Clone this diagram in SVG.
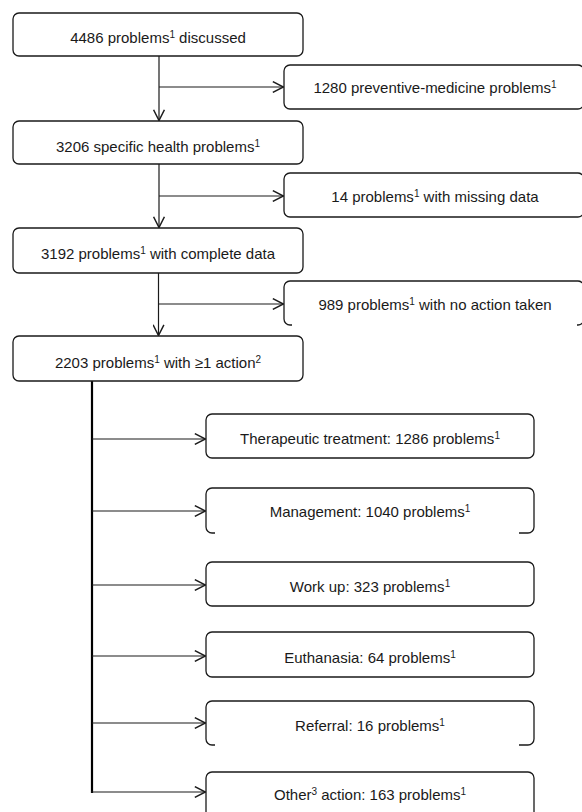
<svg xmlns="http://www.w3.org/2000/svg" width="582" height="812" viewBox="0 0 582 812">
<style>
.box{fill:#fff;stroke:#1a1a1a;stroke-width:1.3}
.open{fill:none;stroke:#1a1a1a;stroke-width:1.3}
.ln{fill:none;stroke:#1a1a1a;stroke-width:1.2}
.thick{fill:none;stroke:#000;stroke-width:2.2}
text{font-family:"Liberation Sans",Arial,sans-serif;font-size:15px;fill:#1a1a1a;text-anchor:middle}
.sup{font-size:10px}
</style>
<defs>
<marker id="ah" markerUnits="userSpaceOnUse" markerWidth="12" markerHeight="12" viewBox="0 0 10 10" refX="9.4" refY="5" orient="auto">
<path d="M0.5,0.5 L9.4,5 L0.5,9.5" fill="none" stroke="#1a1a1a" stroke-width="1.2"/>
</marker>
</defs>
<rect width="582" height="812" fill="#fff"/>
<g id="connectors">
<line class="ln" x1="159" y1="56" x2="159" y2="120.5" marker-end="url(#ah)"/>
<line class="ln" x1="159" y1="87" x2="283.5" y2="87" marker-end="url(#ah)"/>
<line class="ln" x1="159" y1="164" x2="159" y2="227.5" marker-end="url(#ah)"/>
<line class="ln" x1="159" y1="196" x2="283.5" y2="196" marker-end="url(#ah)"/>
<line class="ln" x1="158.5" y1="273" x2="158.5" y2="335.5" marker-end="url(#ah)"/>
<line class="ln" x1="158.5" y1="304" x2="283.5" y2="304" marker-end="url(#ah)"/>
<line class="thick" x1="92" y1="381" x2="92" y2="793"/>
<line class="ln" x1="92" y1="439" x2="205.5" y2="439" marker-end="url(#ah)"/>
<line class="ln" x1="92" y1="511" x2="205.5" y2="511" marker-end="url(#ah)"/>
<line class="ln" x1="92" y1="585" x2="205.5" y2="585" marker-end="url(#ah)"/>
<line class="ln" x1="92" y1="656" x2="205.5" y2="656" marker-end="url(#ah)"/>
<line class="ln" x1="92" y1="723" x2="205.5" y2="723" marker-end="url(#ah)"/>
<line class="ln" x1="91" y1="792" x2="205.5" y2="792" marker-end="url(#ah)"/>
</g>
<g id="n1">
<rect class="box" x="13" y="13" width="290" height="43" rx="6"/>
<text x="158" y="43">4486 problems<tspan class="sup" dy="-5">1</tspan><tspan dy="5"> discussed</tspan></text>
</g>
<g id="n2">
<rect class="box" x="284" y="65" width="300" height="44" rx="6"/>
<text x="435" y="93">1280 preventive-medicine problems<tspan class="sup" dy="-5">1</tspan></text>
</g>
<g id="n3">
<rect class="box" x="13" y="121" width="290" height="43" rx="6"/>
<text x="158" y="152">3206 specific health problems<tspan class="sup" dy="-5">1</tspan></text>
</g>
<g id="n4">
<rect class="box" x="284" y="173" width="300" height="44" rx="6"/>
<text x="435" y="202">14 problems<tspan class="sup" dy="-5">1</tspan><tspan dy="5"> with missing data</tspan></text>
</g>
<g id="n5">
<rect class="box" x="13" y="228" width="290" height="45" rx="6"/>
<text x="158" y="259">3192 problems<tspan class="sup" dy="-5">1</tspan><tspan dy="5"> with complete data</tspan></text>
</g>
<g id="n6">
<path class="open" d="M292,325 H290 A6,6 0 0 1 284,319 V287 A6,6 0 0 1 290,281 H578 A6,6 0 0 1 584,287 V319 A6,6 0 0 1 578,325 H577"/>
<text x="435" y="310">989 problems<tspan class="sup" dy="-5">1</tspan><tspan dy="5"> with no action taken</tspan></text>
</g>
<g id="n7">
<rect class="box" x="13" y="336" width="290" height="45" rx="6"/>
<text x="158" y="368">2203 problems<tspan class="sup" dy="-5">1</tspan><tspan dy="5"> with ≥1 action</tspan><tspan class="sup" dy="-5">2</tspan></text>
</g>
<g id="n8">
<rect class="box" x="206" y="414" width="328" height="44" rx="6"/>
<text x="370" y="444">Therapeutic treatment: 1286 problems<tspan class="sup" dy="-5">1</tspan></text>
</g>
<g id="n9">
<path class="open" d="M215,533 H212 A6,6 0 0 1 206,527 V494 A6,6 0 0 1 212,488 H528 A6,6 0 0 1 534,494 V527 A6,6 0 0 1 528,533 H519"/>
<text x="370" y="517">Management: 1040 problems<tspan class="sup" dy="-5">1</tspan></text>
</g>
<g id="n10">
<rect class="box" x="206" y="562" width="328" height="44" rx="6"/>
<text x="370" y="592">Work up: 323 problems<tspan class="sup" dy="-5">1</tspan></text>
</g>
<g id="n11">
<rect class="box" x="206" y="632" width="328" height="45" rx="6"/>
<text x="370" y="663">Euthanasia: 64 problems<tspan class="sup" dy="-5">1</tspan></text>
</g>
<g id="n12">
<path class="open" d="M215,745 H212 A6,6 0 0 1 206,739 V707 A6,6 0 0 1 212,701 H528 A6,6 0 0 1 534,707 V739 A6,6 0 0 1 528,745 H519"/>
<text x="370" y="731">Referral: 16 problems<tspan class="sup" dy="-5">1</tspan></text>
</g>
<g id="n13">
<rect class="box" x="206" y="772" width="328" height="46" rx="6"/>
<text x="370" y="800">Other<tspan class="sup" dy="-5">3</tspan><tspan dy="5"> action: 163 problems</tspan><tspan class="sup" dy="-5">1</tspan></text>
</g>
</svg>
